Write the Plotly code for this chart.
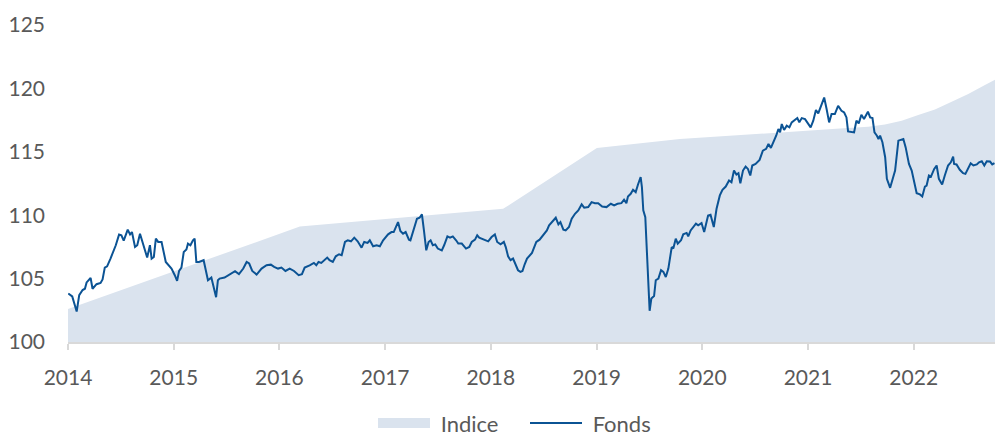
import plotly.graph_objects as go

# ---- Data ----
indice_t = [2014.000, 2016.193, 2018.116, 2019.003, 2019.788, 2020.545, 2021.302,
            2021.570, 2021.728, 2021.886, 2022.043, 2022.201, 2022.359, 2022.516,
            2022.674, 2022.769]
indice_v = [102.6, 109.1, 110.5, 115.3, 116.0, 116.42, 116.84,
            116.97, 117.15, 117.44, 117.9, 118.34, 118.94, 119.55,
            120.26, 120.68]

fonds_t = [
    2014.003, 2014.040, 2014.082, 2014.106, 2014.138, 2014.160, 2014.176, 2014.214, 2014.232, 2014.270,
    2014.308, 2014.327, 2014.348, 2014.370, 2014.402, 2014.426, 2014.452, 2014.483, 2014.505, 2014.527,
    2014.565, 2014.587, 2014.605, 2014.634, 2014.655, 2014.681, 2014.706, 2014.749, 2014.775, 2014.791,
    2014.812, 2014.831, 2014.853, 2014.885, 2014.925, 2014.979, 2015.010, 2015.032, 2015.051, 2015.073,
    2015.095, 2015.120, 2015.135, 2015.158, 2015.182, 2015.198, 2015.214, 2015.239, 2015.283, 2015.302,
    2015.324, 2015.356, 2015.377, 2015.401, 2015.418, 2015.434, 2015.481,
    2015.533, 2015.580, 2015.617, 2015.658, 2015.690, 2015.714, 2015.743, 2015.784, 2015.831, 2015.878,
    2015.919, 2015.950, 2015.987, 2016.019, 2016.057, 2016.097, 2016.138, 2016.182, 2016.213, 2016.239,
    2016.286, 2016.326, 2016.349, 2016.370, 2016.396, 2016.427, 2016.452, 2016.474, 2016.505,
    2016.533, 2016.564, 2016.589, 2016.620, 2016.646, 2016.677, 2016.708, 2016.740, 2016.777, 2016.802,
    2016.834, 2016.855, 2016.886, 2016.919, 2016.950, 2016.981, 2017.028, 2017.060, 2017.081, 2017.122,
    2017.144, 2017.169, 2017.194, 2017.225, 2017.239, 2017.270, 2017.301, 2017.326, 2017.348, 2017.367,
    2017.389, 2017.411, 2017.430, 2017.451, 2017.474, 2017.498,
    2017.536, 2017.558, 2017.589, 2017.614, 2017.640, 2017.671, 2017.692, 2017.725, 2017.765, 2017.796,
    2017.819, 2017.850, 2017.871, 2017.890, 2017.913, 2017.944, 2017.975, 2018.007, 2018.038, 2018.060,
    2018.092, 2018.123, 2018.141, 2018.163, 2018.186, 2018.210, 2018.233, 2018.257, 2018.280, 2018.299,
    2018.320, 2018.342, 2018.389, 2018.430, 2018.461, 2018.493,
    2018.530, 2018.551, 2018.582, 2018.614, 2018.639, 2018.658, 2018.686, 2018.708, 2018.739, 2018.765,
    2018.796, 2018.827, 2018.859, 2018.883, 2018.921, 2018.953, 2018.984, 2019.015, 2019.053, 2019.094,
    2019.135, 2019.166, 2019.198, 2019.235, 2019.260, 2019.282, 2019.297, 2019.323, 2019.345, 2019.370,
    2019.392, 2019.417, 2019.429, 2019.442, 2019.461, 2019.480, 2019.502, 2019.518,
    2019.544, 2019.560, 2019.585, 2019.610, 2019.632, 2019.655, 2019.679, 2019.711, 2019.726, 2019.749,
    2019.768, 2019.799, 2019.820, 2019.852, 2019.867, 2019.890, 2019.914, 2019.940, 2019.961, 2019.993,
    2020.018, 2020.055, 2020.078, 2020.109, 2020.135, 2020.166, 2020.191, 2020.222, 2020.253, 2020.276,
    2020.300, 2020.323, 2020.342, 2020.360, 2020.385, 2020.410, 2020.432, 2020.454, 2020.473, 2020.504,
    2020.542, 2020.573, 2020.604, 2020.626, 2020.649, 2020.680, 2020.699, 2020.720, 2020.736, 2020.752,
    2020.774, 2020.799, 2020.824, 2020.846, 2020.877, 2020.899, 2020.918, 2020.941, 2020.972, 2021.003,
    2021.025, 2021.050, 2021.075, 2021.097, 2021.129, 2021.153, 2021.176, 2021.200, 2021.223, 2021.254,
    2021.285, 2021.317, 2021.342, 2021.364, 2021.379, 2021.411, 2021.436, 2021.458, 2021.480, 2021.505,
    2021.530,
    2021.567, 2021.588, 2021.610, 2021.629, 2021.652, 2021.667, 2021.682, 2021.704, 2021.730, 2021.746,
    2021.777, 2021.798, 2021.824, 2021.855, 2021.880, 2021.902, 2021.924, 2021.955, 2021.981, 2022.005,
    2022.028, 2022.059, 2022.081, 2022.106, 2022.122, 2022.144, 2022.163, 2022.194, 2022.217, 2022.238,
    2022.269, 2022.294, 2022.325, 2022.351, 2022.373, 2022.382, 2022.405, 2022.436, 2022.467, 2022.489,
    2022.514, 2022.539, 2022.565, 2022.597, 2022.618, 2022.644, 2022.668, 2022.691, 2022.722, 2022.743,
    2022.764,
]
fonds_v = [
    103.83, 103.60, 102.40, 103.70, 104.10, 104.20, 104.70, 105.05, 104.20, 104.56,
    104.66, 104.93, 105.87, 105.97, 106.58, 107.02, 107.63, 108.47, 108.41, 108.00,
    108.86, 108.49, 108.67, 107.49, 107.63, 108.54, 107.89, 106.66, 107.63, 106.58,
    106.71, 108.15, 107.89, 107.89, 106.31, 105.79, 105.27, 104.82, 105.61, 105.87,
    107.10, 107.29, 107.76, 107.63, 108.02, 108.15, 106.31, 106.31, 106.45, 105.79,
    104.87, 105.08, 104.22, 103.53, 104.87, 105.00, 105.08,
    105.35, 105.58, 105.35, 105.79, 106.31, 106.19, 105.60, 105.32, 105.79, 106.05,
    106.10, 105.92, 105.79, 105.87, 105.60, 105.79, 105.60, 105.27, 105.35, 105.87,
    106.05, 106.24, 106.05, 106.31, 106.24, 106.45, 106.66, 106.45, 106.31,
    106.76, 106.92, 106.84, 107.89, 108.02, 107.94, 108.23, 107.94, 107.44, 107.89,
    107.81, 108.02, 107.55, 107.63, 107.55, 108.02, 108.49, 108.67, 108.67, 109.46,
    108.75, 108.54, 108.67, 108.07, 108.02, 108.80, 109.72, 109.80, 110.06, 108.80,
    107.23, 107.89, 108.02, 107.63, 107.70, 107.37,
    107.23, 107.63, 108.33, 108.23, 108.33, 108.02, 107.76, 107.76, 107.37, 107.49,
    107.89, 108.07, 108.41, 108.23, 108.15, 108.07, 107.94, 108.28, 108.49, 107.89,
    107.70, 107.89, 107.49, 106.76, 106.45, 106.58, 106.19, 105.66, 105.53, 105.60,
    106.13, 106.58, 107.02, 107.89, 108.07, 108.41,
    108.80, 109.20, 109.46, 109.80, 109.28, 109.46, 108.86, 108.80, 109.07, 109.72,
    110.11, 110.38, 110.85, 110.59, 110.64, 111.03, 110.95, 110.95, 110.69, 110.64,
    110.90, 110.77, 110.90, 110.95, 111.22, 110.95, 111.48, 111.69, 112.00, 111.82,
    112.42, 113.00, 112.21, 110.38, 109.85, 106.45, 102.46, 103.43,
    103.62, 104.87, 105.00, 105.66, 105.53, 105.13, 105.79, 107.49, 107.37, 108.15,
    107.76, 108.02, 108.49, 108.60, 108.33, 108.80, 109.02, 109.33, 109.20, 109.38,
    108.67, 109.98, 110.04, 109.07, 110.51, 111.56, 112.00, 112.26, 112.74, 112.60,
    113.52, 113.21, 113.31, 112.52, 113.52, 113.84, 113.65, 113.13, 113.92, 114.05,
    114.36, 115.09, 115.23, 115.62, 115.31, 115.88, 116.27, 116.80, 116.53, 117.19,
    116.72, 117.06, 116.93, 117.32, 117.51, 117.66, 117.32, 117.66, 117.58, 117.24,
    116.93, 117.45, 118.29, 118.03, 118.77, 119.28, 118.37, 117.32, 117.98, 117.98,
    118.63, 118.24, 118.10, 117.71, 116.61, 116.59, 116.53, 117.45, 117.24, 117.92,
    117.58,
    118.16, 117.71, 117.66, 116.53, 116.27, 116.01, 116.27, 115.75, 114.57, 112.87,
    112.16, 112.87, 113.52, 115.88, 115.93, 116.01, 115.35, 114.05, 113.52, 112.60,
    111.74, 111.64, 111.48, 112.26, 112.34, 113.13, 113.05, 113.65, 113.92, 112.87,
    112.42, 113.13, 113.92, 114.17, 114.62, 114.05, 114.00, 113.58, 113.31, 113.26,
    113.65, 114.10, 113.92, 114.00, 114.17, 114.25, 113.92, 114.25, 114.23, 114.00,
    114.10,
]

year_ticks = [2014, 2015, 2016, 2017, 2018, 2019, 2020, 2021, 2022]
year_labels = ["2014", "2015", "2016", "2017", "2018", "2019", "2020", "2021", "2022"]
y_ticks = [100, 105, 110, 115, 120, 125]

FONT = "Lato"
TXT = "#595959"
AREA = "#DAE3EE"
LINE = "#0B5394"

fig = go.Figure()
# area (drawn on the axes), its legend entry is provided by a swatch-only trace
fig.add_trace(go.Scatter(
    x=indice_t, y=indice_v, name="Indice", mode="none", legendgroup="indice",
    fill="tozeroy", fillcolor=AREA, hoverinfo="skip", showlegend=False,
))
fig.add_trace(go.Scatter(
    x=[None], y=[None], name="\u00a0Indice", mode="lines", legendgroup="indice",
    line=dict(color=AREA, width=14), hoverinfo="skip",
))
fig.add_trace(go.Scatter(
    x=fonds_t, y=fonds_v, name="\u00a0Fonds", mode="lines",
    line=dict(color=LINE, width=2),
))

fig.update_layout(
    width=995, height=433,
    margin=dict(l=68, r=0, t=25, b=91, autoexpand=False),
    plot_bgcolor="white", paper_bgcolor="white",
    font=dict(family=FONT, size=21, color=TXT),
    showlegend=True,
    legend=dict(
        orientation="h", xref="container", yref="container",
        x=373 / 995, xanchor="left", y=0.071, yanchor="top",
        font=dict(family=FONT, size=22, color=TXT),
        itemwidth=52, entrywidth=85, traceorder="normal",
    ),
    xaxis=dict(
        range=[2014, 2022.769], tickvals=year_ticks, ticktext=year_labels,
        showgrid=False, zeroline=False, automargin=False,
        showline=True, linecolor="#D9D9D9", linewidth=2,
        ticks="outside", ticklen=6, tickwidth=2, tickcolor="#D9D9D9",
        ticklabelstandoff=10,
        tickfont=dict(family=FONT, size=21, color=TXT),
    ),
    yaxis=dict(
        range=[100, 125], tickvals=y_ticks, automargin=False,
        showgrid=False, zeroline=False, showline=False, ticks="",
        ticklabelstandoff=22,
        tickfont=dict(family=FONT, size=21, color=TXT),
    ),
)

fig.write_html(
    "out.html",
    config={"displayModeBar": False},
    post_script="document.body.style.margin='0';document.body.style.padding='0';",
)
